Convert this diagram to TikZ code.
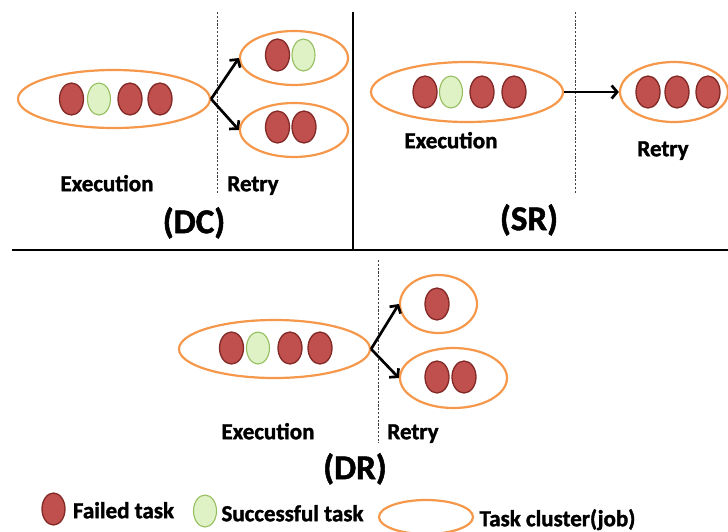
\documentclass[tikz,border=0pt]{standalone}
\usepackage{fontspec}
\setmainfont{Carlito}[BoldFeatures={FakeBold=1.5}]
\usetikzlibrary{shapes.geometric,arrows.meta}
\definecolor{failfill}{RGB}{192,80,77}
\definecolor{faildraw}{RGB}{130,40,38}
\definecolor{okfill}{RGB}{222,242,198}
\definecolor{okdraw}{RGB}{150,190,95}
\definecolor{clusterc}{RGB}{245,152,75}
\tikzset{
  failed/.style={ellipse, minimum width=24pt, minimum height=32pt, inner sep=0pt, fill=failfill, draw=faildraw, line width=1.3pt},
  success/.style={ellipse, minimum width=23pt, minimum height=32pt, inner sep=0pt, fill=okfill, draw=okdraw, line width=1.1pt},
  cluster/.style={ellipse, inner sep=0pt, draw=clusterc, line width=2.2pt},
  lbl/.style={inner sep=0pt, font=\fontsize{23}{25}\selectfont\bfseries, text height=0.644em, text depth=0pt},
  title/.style={inner sep=0pt, font=\fontsize{35}{38}\selectfont\bfseries, text height=0.644em, text depth=0pt},
  divider/.style={line width=2.6pt, black},
  phase/.style={line width=0.8pt, black!75, dash pattern=on 2.2pt off 1.6pt},
  flow/.style={line width=2.7pt, -{Straight Barb[length=5.5pt,width=13pt,line width=2.7pt]}}
}
\begin{document}
\begin{tikzpicture}[x=1pt,y=-1pt]
\useasboundingbox (0,0) rectangle (728,531);
% dividers
\coordinate (hl) at (12,250);
\coordinate (hr) at (728,250);
\coordinate (vt) at (353,12);
\coordinate (vb) at (353,250);
\draw[divider] (hl) -- (hr);
\draw[divider] (vt) -- (vb);

% ---------- DC ----------
\coordinate (dcdt) at (217,12);
\coordinate (dcdb) at (217,193);
\draw[phase] (dcdt) -- (dcdb);
\node[cluster, minimum width=192pt, minimum height=58pt] (dcE) at (114,99) {};
\node[failed]  (dcE1) at (71.5,99) {};
\node[success] (dcE2) at (99,99) {};
\node[failed]  (dcE3) at (130,99) {};
\node[failed]  (dcE4) at (160,99) {};
\node[cluster, minimum width=108pt, minimum height=54pt] (dcR1) at (294,58) {};
\node[failed]  (dcR1a) at (277.5,55) {};
\node[success] (dcR1b) at (303.5,55) {};
\node[cluster, minimum width=108pt, minimum height=54pt] (dcR2) at (294,130) {};
\node[failed]  (dcR2a) at (277.5,127) {};
\node[failed]  (dcR2b) at (304,127) {};
\draw[flow] (dcE.east) -- (dcR1.west);
\draw[flow] (dcE.east) -- (dcR2.west);
\node[lbl] (dcEx) at (107,188) {Execution};
\node[lbl] (dcRt) at (253,188) {Retry};
\node[title] (dcT) at (194,230) {(DC)};

% ---------- SR ----------
\coordinate (srdt) at (575,12);
\coordinate (srdb) at (575,193);
\draw[phase] (srdt) -- (srdb);
\node[cluster, minimum width=192pt, minimum height=60pt] (srE) at (467,92) {};
\node[failed]  (srE1) at (425,92) {};
\node[success] (srE2) at (451,92) {};
\node[failed]  (srE3) at (482,92) {};
\node[failed]  (srE4) at (514,92) {};
\node[cluster, minimum width=108pt, minimum height=60pt] (srR) at (674,92) {};
\node[failed]  (srR1) at (648,92) {};
\node[failed]  (srR2) at (677,92) {};
\node[failed]  (srR3) at (708,92) {};
\draw[flow] (srE.east) -- (srR.west);
\node[lbl] (srEx) at (451,145) {Execution};
\node[lbl] (srRt) at (663,153) {Retry};
\node[title] (srT) at (529,227) {(SR)};

% ---------- DR ----------
\coordinate (drdt) at (378,260);
\coordinate (drdb) at (378,443);
\draw[phase] (drdt) -- (drdb);
\node[cluster, minimum width=191pt, minimum height=58pt] (drE) at (274.5,349) {};
\node[failed]  (drE1) at (231.5,348) {};
\node[success] (drE2) at (258,348) {};
\node[failed]  (drE3) at (290,348) {};
\node[failed]  (drE4) at (320,348) {};
\node[cluster, minimum width=77pt, minimum height=58pt] (drR1) at (438.5,304) {};
\node[failed]  (drR1a) at (437,304) {};
\node[cluster, minimum width=107pt, minimum height=60pt] (drR2) at (453.5,378) {};
\node[failed]  (drR2a) at (437,377) {};
\node[failed]  (drR2b) at (464,377) {};
\draw[flow] (drE.east) -- (drR1.west);
\draw[flow] (drE.east) -- (drR2.west);
\node[lbl] (drEx) at (268,436) {Execution};
\node[lbl] (drRt) at (413,436) {Retry};
\node[title] (drT) at (355,476) {(DR)};

% ---------- legend ----------
\node[failed, minimum width=23pt] (lgF) at (53.5,509) {};
\node[lbl] (lgFt) at (123.5,515) {Failed task};
\node[success] (lgS) at (205,511) {};
\node[lbl] (lgSt) at (292.5,518) {Successful task};
\node[cluster, minimum width=94pt, minimum height=34pt] (lgC) at (426,517) {};
\node[lbl] (lgCt) at (557.5,523) {Task cluster(job)};
\end{tikzpicture}
\end{document}
